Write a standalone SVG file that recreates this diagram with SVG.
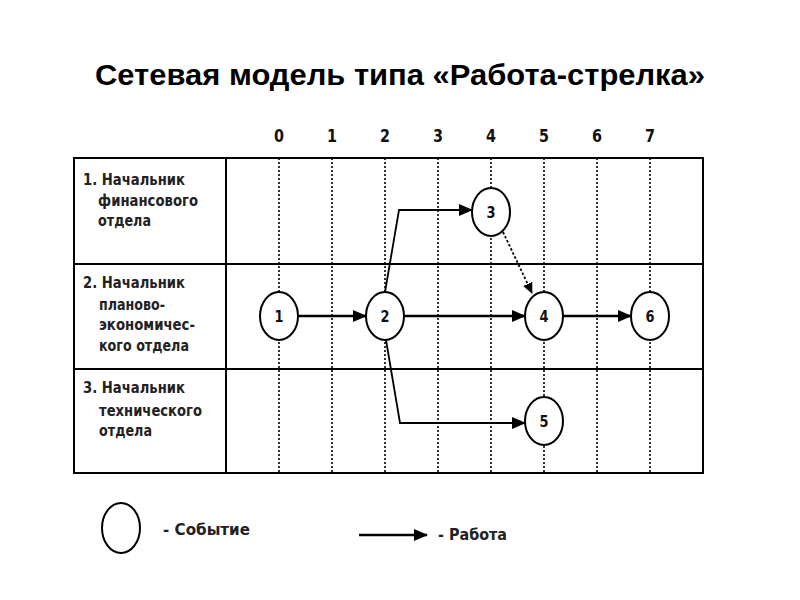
<svg xmlns="http://www.w3.org/2000/svg" width="800" height="600" viewBox="0 0 800 600">
<defs>
<marker id="ah" markerUnits="userSpaceOnUse" markerWidth="14" markerHeight="12" refX="13" refY="6" orient="auto">
<path d="M0,0 L14,6 L0,12 Z" fill="#000"/>
</marker>
<marker id="ahs" markerUnits="userSpaceOnUse" markerWidth="11" markerHeight="10" refX="10" refY="5" orient="auto">
<path d="M0,0 L11,5 L0,10 Z" fill="#000"/>
</marker>
<style>
.title{font-family:"Liberation Sans",Arial,sans-serif;font-weight:bold;font-size:29px;fill:#000}
.lbl{font-family:"DejaVu Sans",sans-serif;font-weight:bold;font-size:15.5px;fill:#222}
.num{font-family:"DejaVu Sans",sans-serif;font-weight:bold;font-size:17px;fill:#111;text-anchor:middle}
.enum{font-family:"DejaVu Sans",sans-serif;font-weight:bold;font-size:16px;fill:#111;text-anchor:middle}
.grid{stroke:#000;stroke-width:1.6;stroke-dasharray:2 2;fill:none}
.frame{stroke:#000;stroke-width:2;fill:none}
.ev{fill:#fff;stroke:#000;stroke-width:2}
.work{stroke:#000;stroke-width:2.6;fill:none}
.work2{stroke:#000;stroke-width:1.8;fill:none}
.dummy{stroke:#000;stroke-width:1.8;stroke-dasharray:2.5 2;fill:none}
</style>
</defs>
<rect width="800" height="600" fill="#fff"/>
<text class="title" x="400" y="85" text-anchor="middle" textLength="610" lengthAdjust="spacingAndGlyphs">Сетевая модель типа «Работа-стрелка»</text>

<g id="scale">
<text class="num" x="279" y="142" textLength="10" lengthAdjust="spacingAndGlyphs">0</text>
<text class="num" x="332" y="142" textLength="10" lengthAdjust="spacingAndGlyphs">1</text>
<text class="num" x="385" y="142" textLength="10" lengthAdjust="spacingAndGlyphs">2</text>
<text class="num" x="438" y="142" textLength="10" lengthAdjust="spacingAndGlyphs">3</text>
<text class="num" x="491" y="142" textLength="10" lengthAdjust="spacingAndGlyphs">4</text>
<text class="num" x="544" y="142" textLength="10" lengthAdjust="spacingAndGlyphs">5</text>
<text class="num" x="597" y="142" textLength="10" lengthAdjust="spacingAndGlyphs">6</text>
<text class="num" x="650" y="142" textLength="10" lengthAdjust="spacingAndGlyphs">7</text>
</g>

<g id="table">
<rect class="frame" x="74" y="158" width="629" height="315"/>
<line class="frame" x1="226" y1="158" x2="226" y2="473"/>
<line class="frame" x1="74" y1="264" x2="703" y2="264"/>
<line class="frame" x1="74" y1="369" x2="703" y2="369"/>
<g class="grid">
<line x1="279" y1="158" x2="279" y2="473"/>
<line x1="332" y1="158" x2="332" y2="473"/>
<line x1="385" y1="158" x2="385" y2="473"/>
<line x1="438" y1="158" x2="438" y2="473"/>
<line x1="491" y1="158" x2="491" y2="473"/>
<line x1="544" y1="158" x2="544" y2="473"/>
<line x1="597" y1="158" x2="597" y2="473"/>
<line x1="650" y1="158" x2="650" y2="473"/>
</g>
</g>

<g id="rows">
<g id="row1">
<text class="lbl" x="83" y="185" textLength="102" lengthAdjust="spacingAndGlyphs">1. Начальник</text>
<text class="lbl" x="98" y="206" textLength="100" lengthAdjust="spacingAndGlyphs">финансового</text>
<text class="lbl" x="98" y="226" textLength="53" lengthAdjust="spacingAndGlyphs">отдела</text>
</g>
<g id="row2">
<text class="lbl" x="83" y="288" textLength="102" lengthAdjust="spacingAndGlyphs">2. Начальник</text>
<text class="lbl" x="99" y="310" textLength="66" lengthAdjust="spacingAndGlyphs">планово-</text>
<text class="lbl" x="99" y="330" textLength="96" lengthAdjust="spacingAndGlyphs">экономичес-</text>
<text class="lbl" x="99" y="351" textLength="90" lengthAdjust="spacingAndGlyphs">кого отдела</text>
</g>
<g id="row3">
<text class="lbl" x="83" y="393" textLength="102" lengthAdjust="spacingAndGlyphs">3. Начальник</text>
<text class="lbl" x="99" y="416" textLength="103" lengthAdjust="spacingAndGlyphs">технического</text>
<text class="lbl" x="99" y="436" textLength="53" lengthAdjust="spacingAndGlyphs">отдела</text>
</g>
</g>

<g id="connectors">
<line class="work" x1="298" y1="316" x2="366" y2="316" marker-end="url(#ah)"/>
<line class="work" x1="404" y1="316" x2="525" y2="316" marker-end="url(#ah)"/>
<line class="work" x1="563" y1="316" x2="631" y2="316" marker-end="url(#ah)"/>
<polyline class="work2" points="385,292 399,210 472,210" marker-end="url(#ah)"/>
<polyline class="work2" points="386,340 400,423 525,423" marker-end="url(#ah)"/>
<line class="dummy" x1="503" y1="232" x2="532" y2="293" marker-end="url(#ahs)"/>
</g>

<g id="n1"><ellipse class="ev" cx="279" cy="316" rx="19" ry="24"/><text class="enum" x="279" y="322" textLength="9" lengthAdjust="spacingAndGlyphs">1</text></g>
<g id="n2"><ellipse class="ev" cx="385" cy="316" rx="19" ry="24"/><text class="enum" x="385" y="322" textLength="9" lengthAdjust="spacingAndGlyphs">2</text></g>
<g id="n3"><ellipse class="ev" cx="491" cy="212" rx="19" ry="24"/><text class="enum" x="491" y="218" textLength="9" lengthAdjust="spacingAndGlyphs">3</text></g>
<g id="n4"><ellipse class="ev" cx="544" cy="316" rx="19" ry="24"/><text class="enum" x="544" y="322" textLength="9" lengthAdjust="spacingAndGlyphs">4</text></g>
<g id="n5"><ellipse class="ev" cx="544" cy="421" rx="19" ry="24"/><text class="enum" x="544" y="427" textLength="9" lengthAdjust="spacingAndGlyphs">5</text></g>
<g id="n6"><ellipse class="ev" cx="650" cy="316" rx="19" ry="24"/><text class="enum" x="650" y="322" textLength="9" lengthAdjust="spacingAndGlyphs">6</text></g>

<g id="legend">
<ellipse class="ev" cx="121" cy="528" rx="19" ry="25"/>
<text class="lbl" x="163" y="535" textLength="87" lengthAdjust="spacingAndGlyphs">- Событие</text>
<line class="work" x1="359" y1="535" x2="427" y2="535" marker-end="url(#ah)"/>
<text class="lbl" x="438" y="540" textLength="69" lengthAdjust="spacingAndGlyphs">- Работа</text>
</g>
</svg>
